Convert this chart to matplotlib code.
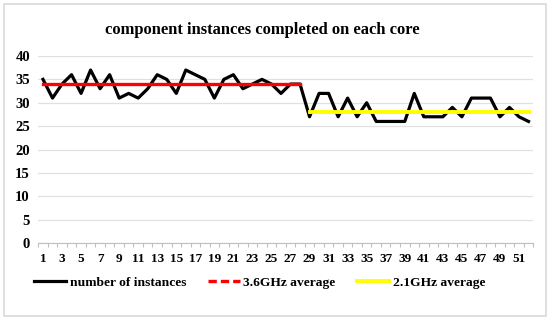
import matplotlib
matplotlib.use("Agg")
import matplotlib.pyplot as plt
from matplotlib.lines import Line2D
from matplotlib.patches import Rectangle

plt.rcParams['font.family'] = ['Liberation Serif', 'DejaVu Serif']

cores = list(range(1, 53))
instances = [35, 31, 34, 36, 32, 37, 33, 36, 31, 32, 31, 33, 36, 35, 32, 37, 36, 35,
             31, 35, 36, 33, 34, 35, 34, 32, 34, 34, 27, 32, 32, 27, 31, 27, 30, 26,
             26, 26, 26, 32, 27, 27, 27, 29, 27, 31, 31, 31, 27, 29, 27, 26]
avg_36_range = (1, 28)
avg_36 = 34
avg_21_range = (29, 52)
avg_21 = 28
title = "component instances completed on each core"
yticks = [0, 5, 10, 15, 20, 25, 30, 35, 40]

fig = plt.figure(figsize=(5.5, 3.2), dpi=100)
ax = fig.add_axes([0.0695, 0.2406, 0.9001, 0.5844])

fig.patches.append(Rectangle((0.008, 0.012), 0.984, 0.976, transform=fig.transFigure,
                             fill=False, edgecolor='#d9d9d9', linewidth=1.2))

ax.plot(cores, instances, color='black', linewidth=2.3, zorder=3)
ax.plot(list(avg_36_range), [avg_36, avg_36], color='#ff0000', linewidth=2.4, zorder=4)
ax.plot(list(avg_21_range), [avg_21, avg_21], color='#ffff00', linewidth=2.8, zorder=4)

ax.set_xlim(0.5, 52.5)
ax.set_ylim(0, 40)
ax.set_yticks(yticks)
ax.set_yticklabels([str(v) for v in yticks], fontweight='bold', fontsize=10.5)
ax.set_xticks(cores[::2])
ax.set_xticklabels([str(c) for c in cores[::2]], fontweight='bold', fontsize=9.5)
ax.set_xticks([c + 0.5 for c in range(0, 53)], minor=True)
ax.tick_params(axis='x', which='major', length=0, pad=7)
ax.tick_params(axis='x', which='minor', length=3, color='#bfbfbf', width=0.8)
ax.tick_params(axis='y', length=0, pad=6)
ax.grid(axis='y', color='#e0e0e0', linewidth=0.9)
ax.set_axisbelow(True)
for s in ['top', 'right', 'left']:
    ax.spines[s].set_visible(False)
ax.spines['bottom'].set_color('#bfbfbf')

fig.text(0.477, 0.905, title, ha='center', va='center', fontsize=11.9, fontweight='bold')

handles = [Line2D([], [], color='black', linewidth=2.3),
           Line2D([], [], color='#ff0000', linewidth=2.4, linestyle=(0, (2.5, 1.2))),
           Line2D([], [], color='#ffff00', linewidth=2.8)]
labels = ['number of instances', '3.6GHz average', '2.1GHz average']
fig.legend(handles, labels, loc='center', bbox_to_anchor=(0.472, 0.117), ncol=3,
           frameon=False, prop={'weight': 'bold', 'size': 9.7},
           handlelength=2.4, handletextpad=0.25, columnspacing=1.6)

fig.savefig('out.png', dpi=100, facecolor='white')
